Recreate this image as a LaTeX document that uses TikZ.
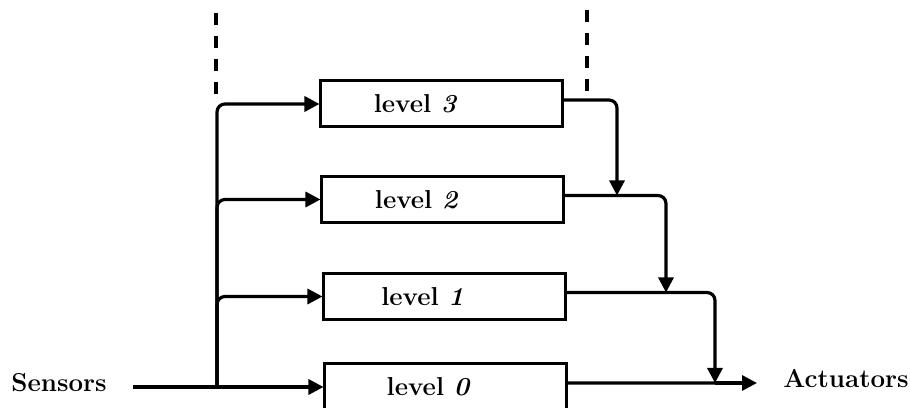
\documentclass[tikz,border=0pt]{standalone}
\usetikzlibrary{arrows.meta}
\begin{document}
\begin{tikzpicture}[x=0.5bp,y=-0.5bp,
  txt/.style={font=\fontsize{13}{15}\selectfont\bfseries, inner sep=0pt},
  lvl/.style={draw, line width=1.5bp, minimum width=120.5bp, minimum height=23bp, inner sep=0pt},
  conn/.style={line width=1.6bp, rounded corners=4bp},
  tip/.style={-{Triangle[length=7.5bp,width=7.5bp]}},
  dashline/.style={line width=1.6bp, dash pattern=on 6bp off 5.5bp}]
\useasboundingbox (0,0) rectangle (910,408);
% level boxes
\node[lvl, label={[txt, xshift=-13bp]center:level \textit{3}}] (l3) at (441.5,104) {};
\node[lvl, label={[txt, xshift=-13bp]center:level \textit{2}}] (l2) at (442.5,199.5) {};
\node[lvl, label={[txt, xshift=-11bp]center:level \textit{1}}] (l1) at (444.5,296.5) {};
\node[lvl, label={[txt, xshift=-8.5bp]center:level \textit{0}}] (l0) at (445.5,387) {};
% labels
\node[txt] (sen) at (59,383) {Sensors};
\node[txt, anchor=west] (act) at (783,379) {Actuators};
% coordinates
\coordinate (s0) at (133,387);
\coordinate (v) at (217,387);
\coordinate (j2) at (617,195.5);
\coordinate (j1) at (666,292.5);
\coordinate (j0) at (715,383);
\coordinate (d1a) at (216,13);
\coordinate (d1b) at (216,97);
\coordinate (d2a) at (587,10);
\coordinate (d2b) at (587,94);
% dashed lines
\draw[dashline] (d1a) -- (d1b);
\draw[dashline] (d2a) -- (d2b);
% inputs
\draw[conn, tip] (s0) -- (l0.west);
\draw[conn, tip] (v) |- (l3.west);
\draw[conn, tip] (v) |- (l2.west);
\draw[conn, tip] (v) |- (l1.west);
% outputs
\draw[conn, tip] ([yshift=2bp]l3.east) -| (j2);
\draw[conn] ([yshift=2bp]l2.east) -- (j2);
\draw[conn, tip] (j2) -| (j1);
\draw[conn] ([yshift=2bp]l1.east) -- (j1);
\draw[conn, tip] (j1) -| (j0);
\draw[conn] ([yshift=2bp]l0.east) -- (j0);
\draw[conn, tip, shorten >=13bp] (j0) -- (j0 -| act.west);
\end{tikzpicture}
\end{document}
